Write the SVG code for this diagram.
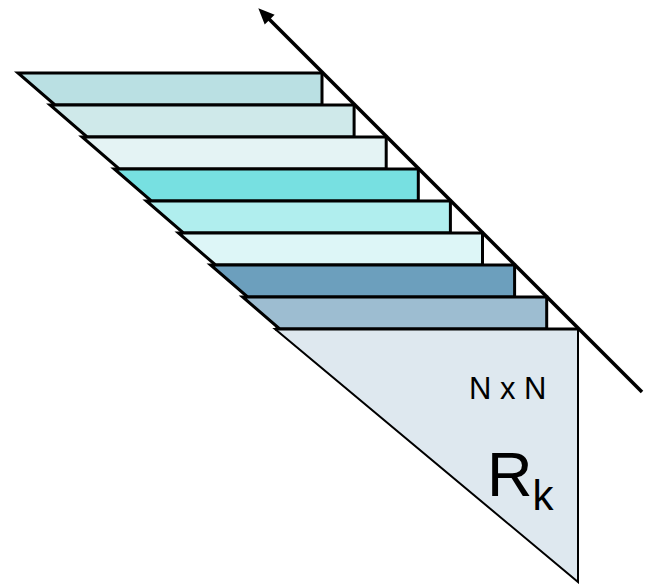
<svg xmlns="http://www.w3.org/2000/svg" width="650" height="584" viewBox="0 0 650 584">
<defs>
<style>
.strip{stroke:#000;stroke-width:3;stroke-linejoin:miter}
.tri{stroke:#000;stroke-width:2}
.lbl{font-family:"Liberation Sans",Arial,sans-serif;fill:#000}
</style>
<marker id="ah" markerUnits="userSpaceOnUse" markerWidth="17" markerHeight="15" viewBox="0 -7.5 16 15" refX="8" refY="0" orient="auto">
<path d="M0,-7 L16,0 L0,7 z" fill="#000"/>
</marker>
</defs>
<rect width="650" height="584" fill="#fff"/>
<g id="strip1"><polygon class="strip" fill="#bae0e3" points="18,73 322,73 322,105 55,105"/></g>
<g id="strip2"><polygon class="strip" fill="#cfe9ea" points="50.1,105 354.1,105 354.1,137 87.1,137"/></g>
<g id="strip3"><polygon class="strip" fill="#e4f3f4" points="82.2,137 386.2,137 386.2,169 119.2,169"/></g>
<g id="strip4"><polygon class="strip" fill="#77e0e1" points="114.3,169 418.3,169 418.3,201 151.3,201"/></g>
<g id="strip5"><polygon class="strip" fill="#b0eeee" points="146.4,201 450.4,201 450.4,233 183.4,233"/></g>
<g id="strip6"><polygon class="strip" fill="#ddf6f7" points="178.5,233 482.5,233 482.5,265 215.5,265"/></g>
<g id="strip7"><polygon class="strip" fill="#6c9fbd" points="210.6,265 514.6,265 514.6,297 247.6,297"/></g>
<g id="strip8"><polygon class="strip" fill="#9dbdd1" points="242.7,297 546.7,297 546.7,329 279.7,329"/></g>
<g id="rk">
<polygon class="tri" fill="#dee8ef" points="275,329 578,329 578,582"/>
<line x1="275" y1="329" x2="578" y2="329" stroke="#000" stroke-width="3"/>
<text class="lbl" x="469" y="399" font-size="31">N x N</text>
<text class="lbl" x="487" y="496" font-size="63">R<tspan font-size="42" dy="14">k</tspan></text>
</g>
<g id="connectors">
<line x1="642" y1="392" x2="264" y2="14" stroke="#000" stroke-width="3.5" marker-end="url(#ah)"/>
</g>
</svg>
